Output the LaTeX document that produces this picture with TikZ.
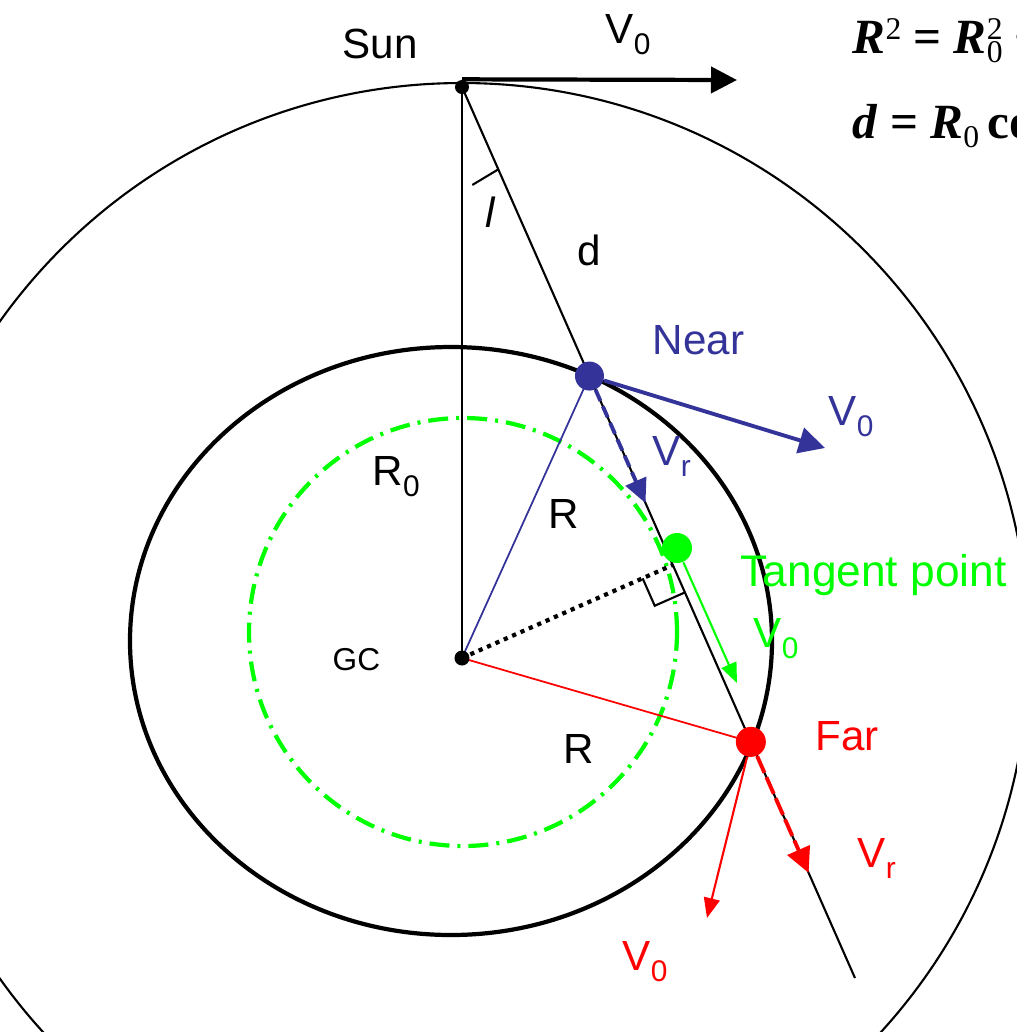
\documentclass[tikz,border=0pt]{standalone}
\usepackage{fontspec}
\setmainfont{Liberation Sans}
\newfontfamily\eqfont{Liberation Serif}
\usepackage{tikz}
\usetikzlibrary{calc,arrows.meta}
\definecolor{nearC}{RGB}{51,51,153}
\definecolor{farC}{RGB}{255,0,0}
\definecolor{tanC}{RGB}{0,255,0}
\newcommand{\lsub}[1]{\raisebox{-0.28em}{\fontsize{8.5}{9}\selectfont #1}}
\newcommand{\esup}[1]{\raisebox{0.27em}{\fontsize{9}{10}\selectfont\mdseries\upshape #1}}
\newcommand{\esub}[1]{\raisebox{-0.2em}{\fontsize{9}{10}\selectfont\mdseries\upshape #1}}
\newcommand{\esubsup}[2]{\rlap{\esub{#1}}\esup{#2}}

\begin{document}
\begin{tikzpicture}[
    lab/.style={font=\fontsize{12}{14}\selectfont, inner sep=0pt, anchor=base west},
    ptdot/.style={circle, fill, inner sep=0pt, minimum size=#1},
    bigtip/.style={-{Triangle[length=0.26cm, width=0.26cm]}},
    smalltip/.style={-{Triangle[length=0.2cm, width=0.16cm]}},
    eq/.style={font=\eqfont\fontsize{14}{16}\selectfont\bfseries, inner sep=0pt, anchor=base west}
  ]
  \useasboundingbox (0,0) rectangle (10.17,-10.32);
  \clip (0,0) rectangle (10.17,-10.32);

  % --- key points ---
  \coordinate (sun) at (4.62,-0.87);
  \coordinate (gc) at (4.62,-6.58);
  \coordinate (lend) at (8.55,-9.78);
  \coordinate (near) at ($(sun)!0.3244!(lend)$);
  \coordinate (far) at ($(sun)!0.735!(lend)$);
  \coordinate (foot) at ($(sun)!(gc)!(lend)$);
  \coordinate (tan) at (6.77,-5.48);

  % --- arrow ends ---
  \coordinate (sunv0) at (7.37,-0.80);
  \coordinate (nearv0) at (8.25,-4.48);
  \coordinate (nearvr) at ($(sun)!0.467!(lend)$);
  \coordinate (tanv0) at (7.37,-6.83);
  \coordinate (farvr) at ($(sun)!0.882!(lend)$);
  \coordinate (farv0) at (7.07,-9.18);

  % orbit of the Sun (R_0)
  \draw[line width=0.6pt] (4.62,-6.50) circle (5.67);
  % orbit at R
  \draw[line width=1.2pt] (4.51,-6.41) ellipse [x radius=3.21, y radius=2.94];
  % tangent-point circle
  \draw[tanC, line width=1.2pt, dash pattern=on 0.2cm off 0.08cm on 0.03cm off 0.08cm]
    (4.63,-6.32) circle (2.14);

  % Sun--GC and line of sight
  \draw[line width=0.6pt] (sun) -- (gc);
  \draw[line width=0.6pt] (sun) -- (lend);
  \draw[line width=0.6pt] ($(sun)+(-84:0.985)$) -- ($(sun)!0.9cm!(lend)$);

  % radii to near and far points
  \draw[nearC, line width=0.5pt] (gc) -- (near);
  \draw[farC, line width=0.5pt] (gc) -- (far);
  \draw[line width=1.2pt, dash pattern=on 1.2pt off 1.4pt] (gc) -- (foot);

  % right angle at the tangent point
  \coordinate (ra1) at ($(foot)!0.33cm!(gc)$);
  \coordinate (ra2) at ($(foot)!0.3cm!(lend)$);
  \draw[line width=0.6pt] (ra1) -- ($(ra1)+(ra2)-(foot)$) -- (ra2);

  % points
  \node[ptdot=0.14cm] (sunpt) at (sun) {};
  \node[ptdot=0.15cm] (gcpt) at (gc) {};
  \node[ptdot=0.29cm, nearC] (nearpt) at (near) {};
  \node[ptdot=0.30cm, tanC] (tanpt) at (tan) {};
  \node[ptdot=0.30cm, farC] (farpt) at (far) {};

  % velocity vectors
  \draw[bigtip, line width=1.2pt] (sunpt.north) -- (sunv0);
  \draw[bigtip, nearC, line width=1.1pt] (nearpt) -- (nearv0);
  \draw[-{Triangle[length=0.24cm, width=0.22cm]}, nearC, line width=1.1pt,
    dash pattern=on 0.12cm off 0.06cm] (nearpt) -- (nearvr);
  \draw[smalltip, tanC, line width=0.6pt] (tanpt) -- (tanv0);
  \draw[-{Triangle[length=0.25cm, width=0.24cm]}, farC, line width=1.1pt,
    dash pattern=on 0.18cm off 0.05cm] (farpt) -- (farvr);
  \draw[smalltip, farC, line width=0.6pt] (farpt) -- (farv0);

  % labels
  \node[lab] (sunlab) at (3.42,-0.58) {Sun};
  \node[lab] (sunv0lab) at (6.05,-0.43) {V\lsub{0}};
  \node[lab] (llab) at (4.85,-2.27) {\itshape l};
  \node[lab] (dlab) at (5.77,-2.65) {d};
  \node[lab, nearC] (nearlab) at (6.52,-3.54) {Near};
  \node[lab, nearC] (nearv0lab) at (8.28,-4.25) {V\lsub{0}};
  \node[lab, nearC] (nearvrlab) at (6.52,-4.65) {V\lsub{r}};
  \node[lab] (r0lab) at (3.72,-4.85) {R\lsub{0}};
  \node[lab] (rnlab) at (5.48,-5.28) {R};
  \node[lab, tanC, font=\fontsize{12.6}{14}\selectfont] (tanlab) at (7.40,-5.86) {Tangent point};
  \node[lab, tanC] (tanv0lab) at (7.53,-6.47) {V\lsub{0}};
  \node[lab, font=\fontsize{9}{11}\selectfont] (gclab) at (3.32,-6.70) {GC};
  \node[lab, farC] (farlab) at (8.15,-7.50) {Far};
  \node[lab] (rflab) at (5.63,-7.63) {R};
  \node[lab, farC] (farvrlab) at (8.57,-8.67) {V\lsub{r}};
  \node[lab, farC] (farv0lab) at (6.22,-9.70) {V\lsub{0}};

  % cosine rule, cut by the frame
  \node[eq] (eqone) at (8.52,-0.53)
    {\textit{R}\esup{2} = \textit{R}\esubsup{0}{2} + \textit{d}\esup{2} − 2\textit{R}\esub{0}\textit{d}\,cos\,\textit{l}};
  \node[eq] (eqtwo) at (8.52,-1.38)
    {\textit{d} = \textit{R}\esub{0}\,cos\,\textit{l} ± (\textit{R}\esup{2} − \textit{R}\esubsup{0}{2}sin\esup{2}\textit{l})\esup{1/2}};
\end{tikzpicture}
\end{document}
